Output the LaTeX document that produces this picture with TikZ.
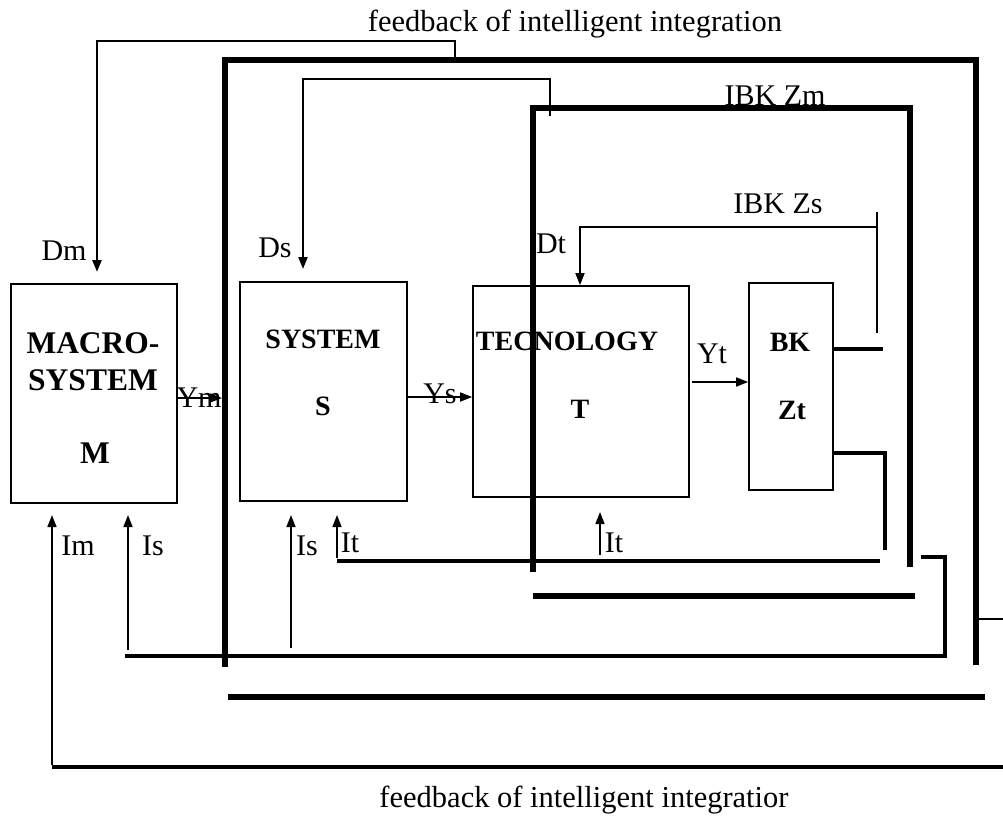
\documentclass[tikz,border=0pt]{standalone}
\usepackage{fontspec}
\setmainfont{Liberation Serif}
\usetikzlibrary{arrows.meta}
\begin{document}
\begin{tikzpicture}[x=1pt,y=-1pt,
  box/.style={draw, line width=1.6pt, inner sep=0pt},
  lbl/.style={font=\fontsize{30}{33}\selectfont, anchor=base, inner sep=0pt},
  fblbl/.style={font=\fontsize{30.5}{33}\selectfont, anchor=base, inner sep=0pt},
  blbl/.style={font=\fontsize{28}{32}\selectfont\bfseries, anchor=base, inner sep=0pt},
  mlbl/.style={font=\fontsize{31.5}{34}\selectfont\bfseries, anchor=base, inner sep=0pt},
  arr/.style={line width=1.6pt, -{Triangle[length=12pt,width=9pt]}},
  heavy/.style={line width=6pt, line join=miter},
  mid/.style={line width=3.5pt},
  fbline/.style={line width=2.6pt, -{Triangle[length=12pt,width=9pt]}},
  thinline/.style={line width=1.4pt}
]
\fill[white] (0,0) rectangle (1003,816);
\useasboundingbox (0,0) rectangle (1003,816);

% boxes
\node[box, minimum width=166pt, minimum height=219pt] (macro) at (94,393.5) {};
\node[box, minimum width=167pt, minimum height=219pt] (sys) at (323.5,391.5) {};
\node[box, minimum width=216pt, minimum height=211pt] (tech) at (581,391.5) {};
\node[box, minimum width=84pt, minimum height=207pt] (bk) at (791,386.5) {};

% box texts
\node[mlbl] (macroA) at (93,353) {MACRO-};
\node[mlbl] (macroB) at (93,390) {SYSTEM};
\node[mlbl] (macroC) at (95,463) {M};
\node[blbl] (sysA) at (323,348) {SYSTEM};
\node[blbl] (sysB) at (323,415) {S};
\node[blbl] (techA) at (567,350) {TECNOLOGY};
\node[blbl] (techB) at (580,418) {T};
\node[blbl] (bkA) at (790,351) {BK};
\node[blbl] (bkB) at (792,419) {Zt};

% coordinates
\coordinate (oBL) at (225,667);
\coordinate (oTL) at (225,60);
\coordinate (oTR) at (976,60);
\coordinate (oBR) at (976,665);
\coordinate (fbA) at (455,60);
\coordinate (fbB) at (455,41);
\coordinate (fbC) at (97,41);
\coordinate (dmEnd) at (97,272);
\coordinate (dsStart) at (550,116);
\coordinate (dsB) at (550,79);
\coordinate (dsC) at (303,79);
\coordinate (dsEnd) at (303,269);
\coordinate (zmBL) at (533,572);
\coordinate (zmTL) at (533,108);
\coordinate (zmTR) at (910,108);
\coordinate (zmBR) at (910,567);
\coordinate (zsTop) at (877,212);
\coordinate (zsBot) at (877,333);
\coordinate (zsJ) at (877,227);
\coordinate (zsL) at (580,227);
\coordinate (ymEnd) at (222,398);

% outer frame
\draw[heavy] (oBL) -- (oTL) -- (oTR) -- (oBR);
\draw[heavy] (228,697) -- (985,697);
\draw[thinline] (976,619) -- (1003,619);

% top feedback
\draw[fbline] (fbA) -- (fbB) -- (fbC) -- (dmEnd);
\node[lbl] (dm) at (64,260) {Dm};

% Ds feedback
\draw[line width=2.2pt, -{Triangle[length=12pt,width=9pt]}] (dsStart) -- (dsB) -- (dsC) -- (dsEnd);
\node[lbl] (ds) at (275,257) {Ds};

% IBK Zm frame
\draw[heavy] (zmBL) -- (zmTL) -- (zmTR) -- (zmBR);
\draw[heavy] (533,596) -- (915,596);
\node[lbl] (ibkzm) at (775,105) {IBK Zm};

% IBK Zs
\draw[line width=2.4pt] (zsTop) -- (zsBot);
\draw[arr] (zsJ) -- (zsL) -- (zsL |- tech.north);
\node[lbl] (ibkzs) at (778,213) {IBK Zs};
\node[lbl] (dt) at (551,253) {Dt};

% outputs
\draw[arr] (macro.east |- ymEnd) -- (ymEnd);
\node[lbl] (ym) at (199,407) {Ym};
\draw[arr] (sys.east |- 0,397) -- (tech.west |- 0,397);
\node[lbl] (ys) at (440,403) {Ys};
\draw[arr] (692,382) -- (bk.west |- 0,382);
\node[lbl] (yt) at (712,363) {Yt};

% BK feedback lines
\draw[mid] (bk.east |- 0,349) -- (883,349);
\draw[mid] (bk.east |- 0,453) -- (885,453) -- (885,550);
\draw[mid] (337,561) -- (880,561);
\draw[mid] (921,557) -- (945,557) -- (945,656) -- (125,656);
\draw[mid] (52,767) -- (1003,767);

% input arrows
\coordinate (imS) at (52,765);
\coordinate (isS) at (128,650);
\coordinate (is2S) at (291,648);
\coordinate (itS) at (337,558);
\coordinate (it2S) at (600,555);
\draw[arr] (imS) -- (52,515);
\draw[arr] (isS) -- (128,515);
\draw[arr] (is2S) -- (291,515);
\draw[arr] (itS) -- (337,515);
\draw[arr] (it2S) -- (600,512);
\node[lbl] (im) at (78,555) {Im};
\node[lbl] (is) at (153,555) {Is};
\node[lbl] (is2) at (307,555) {Is};
\node[lbl] (it) at (350,552) {It};
\node[lbl] (it2) at (614,552) {It};

% feedback texts
\node[fblbl] (fbtop) at (575,32) {feedback of intelligent integration};
\node[fblbl] (fbbot) at (584,807) {feedback of intelligent integratior};
\end{tikzpicture}
\end{document}
